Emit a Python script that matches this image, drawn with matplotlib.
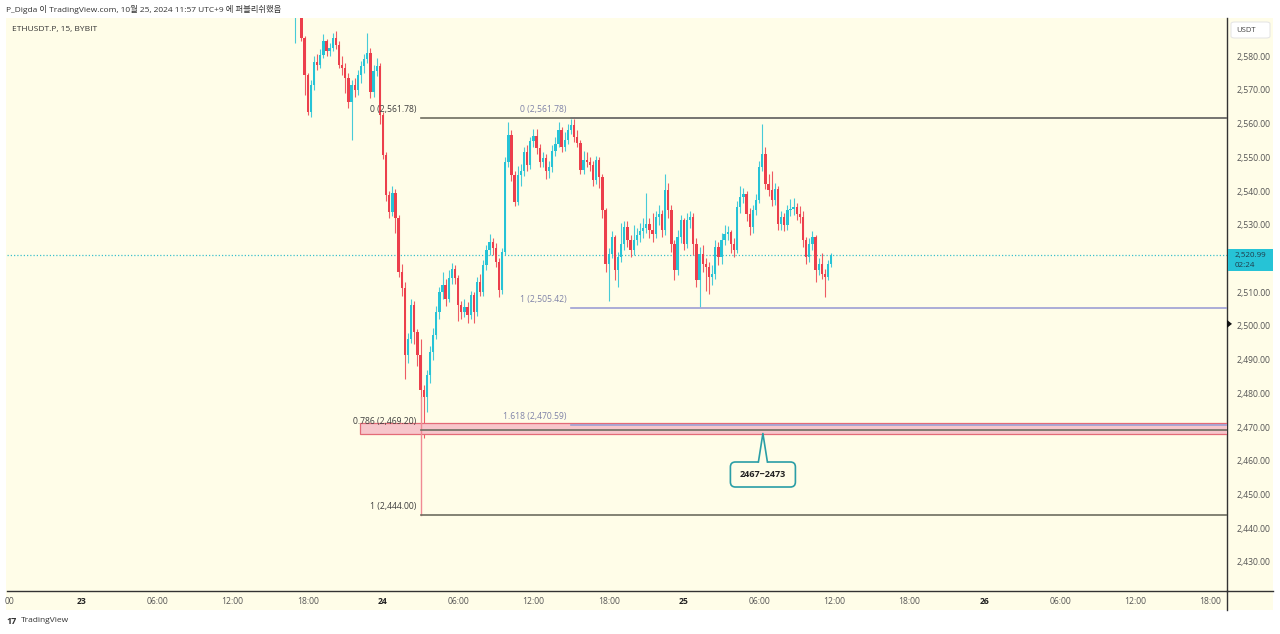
import matplotlib
matplotlib.use('Agg')
import matplotlib.pyplot as plt
from matplotlib.patches import Rectangle, FancyBboxPatch, Polygon
from matplotlib.transforms import IdentityTransform
from matplotlib.lines import Line2D

plt.rcParams['font.family'] = ['Open Sans', 'Noto Sans CJK KR', 'DejaVu Sans']

# ---------------- data ----------------
start_hour = 17.0          # hours since 2024-10-23 00:00 (first candle)
step_hour = 0.25           # 15-minute candles
first_open = 2593.0

closes = [2596, 2597, 2585.4, 2574.5, 2563.5, 2571.5, 2578.4, 2577.4, 2580.4, 2584.4,
          2581.4, 2582.4, 2585.4, 2583.4, 2577.4, 2576.4, 2573.5, 2566.5, 2571.5, 2570.0,
          2574.5, 2577.0, 2579.0, 2581.0, 2569.5, 2575.5, 2577.0, 2562.5, 2550.7, 2538.8,
          2533.9, 2539.3, 2531.9, 2516.1, 2511.1, 2491.3, 2496.2, 2506.2, 2498.2, 2491.3,
          2481.0, 2479.0, 2485.4, 2492.3, 2497.2, 2504.2, 2510.1, 2512.1, 2508.1, 2514.1,
          2517.0, 2514.1, 2506.2, 2504.2, 2505.7, 2503.2, 2509.1, 2504.2, 2513.1, 2510.1,
          2518.0, 2522.5, 2525.0, 2523.0, 2519.0, 2510.6, 2522.0, 2548.7, 2556.6, 2544.8,
          2536.8, 2544.8, 2545.8, 2551.7, 2547.7, 2554.7, 2556.2, 2552.7, 2548.7, 2549.7,
          2545.8, 2547.0, 2552.0, 2554.0, 2558.1, 2553.1, 2555.1, 2558.1, 2559.5, 2556.1,
          2554.1, 2546.2, 2549.1, 2548.7, 2547.7, 2543.2, 2549.1, 2544.2, 2534.3, 2518.5,
          2521.4, 2526.4, 2516.5, 2520.4, 2524.4, 2529.3, 2525.4, 2522.5, 2525.5, 2527.0,
          2528.0, 2529.0, 2530.3, 2528.3, 2527.4, 2532.3, 2533.3, 2528.3, 2540.2, 2534.3,
          2524.4, 2516.5, 2526.4, 2531.3, 2524.4, 2531.3, 2532.3, 2524.4, 2513.5, 2521.4,
          2518.5, 2517.5, 2514.5, 2515.5, 2523.4, 2520.4, 2525.4, 2527.4, 2527.9, 2524.4,
          2522.5, 2535.3, 2538.3, 2539.2, 2533.3, 2529.3, 2534.3, 2537.3, 2547.2, 2551.1,
          2542.2, 2540.2, 2537.3, 2540.7, 2530.3, 2532.3, 2529.8, 2534.3, 2534.8, 2535.3,
          2533.3, 2532.3, 2525.4, 2520.4, 2524.4, 2526.4, 2516.5, 2518.5, 2515.5, 2514.5,
          2518.5, 2521.0]

highs = [2598, 2599, 2598, 2586, 2575, 2573, 2580, 2580.5, 2582, 2586.5,
         2585, 2584, 2587, 2587.3, 2584.5, 2580, 2578, 2575, 2573, 2573.5,
         2576, 2578.5, 2580.5, 2586.8, 2582.5, 2577.5, 2579.5, 2578, 2563.5, 2551.5,
         2540, 2541.5, 2540.5, 2533, 2518.5, 2513, 2498, 2508, 2507.5, 2499,
         2496, 2482.5, 2487, 2494, 2499.5, 2506, 2511.5, 2516, 2514, 2516.5,
         2518.8, 2518, 2515, 2507.5, 2508, 2507, 2510.5, 2510, 2514.5, 2515.5,
         2519.5, 2524, 2527.3, 2526, 2524.5, 2520, 2523, 2550, 2560.5, 2558,
         2546, 2547.5, 2548, 2553, 2553.5, 2556, 2558.5, 2558.3, 2554, 2551.5,
         2551, 2549, 2553.5, 2556, 2560.5, 2559, 2557.5, 2560, 2561.5, 2561.3,
         2558, 2555, 2552, 2551.5, 2550, 2549, 2550.5, 2550, 2545, 2535,
         2523, 2528, 2527, 2522, 2530.5, 2531, 2531, 2527, 2530, 2529,
         2530.5, 2532, 2539.5, 2532, 2533.5, 2534, 2536, 2534.5, 2545, 2542.5,
         2536, 2525.5, 2528.5, 2533, 2532, 2533.5, 2534, 2533.5, 2526, 2523.5,
         2524, 2520, 2519, 2518, 2525.5, 2525, 2527.5, 2530, 2529.5, 2528.5,
         2526, 2537, 2541.5, 2541, 2540, 2535, 2536, 2539, 2549, 2560,
         2553, 2545, 2546, 2542.5, 2541.5, 2534, 2533.5, 2536, 2537.5, 2538,
         2536.5, 2535.5, 2534, 2526.5, 2526, 2528, 2527, 2520, 2521.5, 2517,
         2519.5, 2521.5]

lows = [2584, 2592, 2584.5, 2568.5, 2562.4, 2562.0, 2570, 2576, 2576.5, 2579.5,
        2580, 2580, 2581.5, 2582, 2576.5, 2574.5, 2569, 2564.6, 2555.0, 2568,
        2568.5, 2572, 2575, 2578, 2567.5, 2568, 2574, 2560, 2549.5, 2537,
        2532, 2532.5, 2527.5, 2514.5, 2509, 2484.4, 2489, 2495, 2494.5, 2488,
        2478.5, 2466.8, 2474.5, 2483, 2490, 2496, 2502, 2508, 2506, 2507,
        2512.5, 2512.5, 2501.5, 2502, 2502.5, 2501, 2502, 2501, 2503, 2509,
        2509, 2516.5, 2521, 2521, 2517.5, 2508.5, 2509.5, 2521, 2547, 2543,
        2535.5, 2536, 2541.5, 2544.5, 2546, 2546.5, 2553, 2551, 2547, 2547,
        2543.5, 2544, 2545.5, 2550.5, 2553, 2551.5, 2552, 2554, 2557, 2554.5,
        2553, 2545, 2545, 2547, 2546, 2541.5, 2542, 2541, 2532, 2516,
        2507.5, 2520, 2513.5, 2511.5, 2519, 2522.5, 2523.5, 2520.5, 2521, 2524,
        2525, 2526, 2527.5, 2526, 2525, 2526, 2530, 2526.5, 2527, 2532,
        2522, 2513.5, 2515, 2524.5, 2522.5, 2523, 2529, 2521, 2511.5, 2505.6,
        2516, 2510.5, 2509.5, 2512, 2514, 2518, 2518.5, 2524, 2525.5, 2521.5,
        2520.5, 2521.5, 2533.5, 2536.5, 2531, 2527, 2527.5, 2533, 2536.5, 2546,
        2540.5, 2538.5, 2535.5, 2536, 2528.5, 2528.5, 2528, 2528.5, 2532.5, 2533,
        2531.5, 2530.5, 2523.5, 2518.5, 2519, 2522.5, 2513, 2515, 2514, 2508.6,
        2513.5, 2517.5]

xtick_hours = [-5.75, 0, 6, 12, 18, 24, 30, 36, 42, 48, 54, 60, 66, 72, 78, 84, 90]
xtick_labels = ['00', '23', '06:00', '12:00', '18:00', '24', '06:00', '12:00', '18:00',
                '25', '06:00', '12:00', '18:00', '26', '06:00', '12:00', '18:00']
day_labels = ['23', '24', '25', '26']
ytick_values = [2430, 2440, 2450, 2460, 2470, 2480, 2490, 2500, 2510,
                2530, 2540, 2550, 2560, 2570, 2580]

fib1_start = 27.0
fib1_levels = ['0', '0.786', '1']
fib1_prices = [2561.78, 2469.20, 2444.00]
fib2_start = 39.0
fib2_levels = ['0', '1', '1.618']
fib2_prices = [2561.78, 2505.42, 2470.59]
zone_start = 22.2
zone_low, zone_high = 2468.1, 2471.2
callout_hour = 54.3
callout_text = '2467~2473'
last_price = 2520.99
countdown = '02:24'
marker_price = 2500.6

header = 'P_Digda 이 TradingView.com, 10월 25, 2024 11:57 UTC+9 에 퍼블리쉬했음'
symbol = 'ETHUSDT.P, 15, BYBIT'

# ---------------- style ----------------
W, H = 1280, 634
BG = '#fffde8'
UP = '#26c3d6'
DN = '#ec3f4c'
GRAYFIB = '#6e6d60'
PURFIB = '#9d9fd4'
TEAL = '#2a9ea6'

fig = plt.figure(figsize=(W / 100, H / 100), dpi=100, facecolor='white')
# cream panel (chart + scales)
fig.patches.append(Rectangle((6 / W, 1 - 610 / H), (1273 - 6) / W, (610 - 18) / H,
                             transform=fig.transFigure, facecolor=BG, edgecolor='none', zorder=-5))

ax = fig.add_axes([7 / W, 1 - 591 / H, (1227 - 7) / W, (591 - 18) / H])
ax.set_zorder(1)
ax.set_facecolor(BG)
ax.set_xlim(-5.98, 91.31)
ax.set_ylim(2421.4, 2591.3)

# candles
n = len(closes)
times = [start_hour + step_hour * i for i in range(n)]
opens = [first_open] + closes[:-1]
for t, o, c, hi, lo in zip(times, opens, closes, highs, lows):
    col = UP if c >= o else DN
    ax.vlines(t, lo, hi, color=col, linewidth=0.8, alpha=0.85, zorder=3)
    bottom = min(o, c)
    height = max(abs(c - o), 0.3)
    ax.bar(t, height, bottom=bottom, width=0.185, color=col, edgecolor='none', zorder=4)

# current price dotted line
ax.axhline(last_price, color='#3cc0cc', linewidth=0.9, linestyle=(0, (1, 1.6)), zorder=2)

# zone rectangle
ax.add_patch(Rectangle((zone_start, zone_low), 200, zone_high - zone_low,
                       facecolor='#f7c6cb', edgecolor='#e36b77', linewidth=0.9, zorder=5))

# fib 2 (lavender)
for lv, p in zip(fib2_levels, fib2_prices):
    ax.plot([fib2_start, 200], [p, p], color=PURFIB, linewidth=1.2, zorder=6)
    lab = f'{lv} ({p:,.2f})'
    ax.annotate(lab, (fib2_start, p), xytext=(-3, 6), textcoords='offset points',
                ha='right', va='center', fontsize=6.2, color='#7f82a8', zorder=8)

# fib 1 (gray)
for lv, p in zip(fib1_levels, fib1_prices):
    ax.plot([fib1_start, 200], [p, p], color=GRAYFIB, linewidth=1.2, zorder=7)
    lab = f'{lv} ({p:,.2f})'
    ax.annotate(lab, (fib1_start, p), xytext=(-3, 6), textcoords='offset points',
                ha='right', va='center', fontsize=6.2, color='#3e3e3e', zorder=8)
# fib1 trend line (vertical leg)
ax.plot([fib1_start, fib1_start], [fib1_prices[2], min(closes[39:42])], color='#f08a94',
        linewidth=1.0, zorder=5)

# axes styling
for s in ['top', 'left']:
    ax.spines[s].set_visible(False)
ax.spines['right'].set_color('#333333')
ax.spines['bottom'].set_color('#333333')
ax.spines['right'].set_linewidth(1.0)
ax.spines['bottom'].set_linewidth(1.0)
ax.yaxis.tick_right()
ax.set_yticks(ytick_values)
ax.set_yticklabels([f'{v:,.2f}' for v in ytick_values])
ax.tick_params(axis='y', length=0, pad=7, labelsize=6.2, labelcolor='#555555')
ax.set_xticks(xtick_hours)
ax.set_xticklabels(xtick_labels)
ax.tick_params(axis='x', length=0, pad=4, labelsize=6.2, labelcolor='#555555')
for tl in ax.get_xticklabels():
    if tl.get_text() in day_labels:
        tl.set_color('#222222')
        tl.set_fontweight('bold')

# extend scale separator lines
fig.add_artist(Line2D([1227 / W, 1227 / W], [1 - 610 / H, 1 - 591 / H], transform=fig.transFigure,
                      color='#333333', linewidth=1.0))
fig.add_artist(Line2D([1227 / W, 1273 / W], [1 - 591 / H, 1 - 591 / H], transform=fig.transFigure,
                      color='#333333', linewidth=1.0))

# texts
fig.text(6 / W, 1 - 9 / H, header, fontsize=6, color='#333333', va='center', ha='left')
fig.text(12 / W, 1 - 29 / H, symbol, fontsize=6, color='#333333', va='center', ha='left', zorder=5)
fig.text(6 / W, 1 - 621 / H, '17', fontsize=6.5, fontweight='bold', color='#333333',
         va='center', ha='left')
fig.text(21 / W, 1 - 621 / H, 'TradingView', fontsize=6, color='#333333', va='center', ha='left')

# USDT box
fig.patches.append(FancyBboxPatch((1231 / W, 1 - 38 / H), 39 / W, 16 / H,
                                  boxstyle='round,pad=0,rounding_size=0.003',
                                  transform=fig.transFigure, facecolor='white',
                                  edgecolor='#e6e6e6', linewidth=0.8, zorder=2))
fig.text(1236 / W, 1 - 30 / H, 'USDT', fontsize=5.5, color='#444444', va='center', ha='left',
         zorder=3)

fig.canvas.draw()
tr = ax.transData

# last price tag
px, py = tr.transform((ax.get_xlim()[1], last_price))
fig.patches.append(Rectangle((px + 1, py - 16), 45, 22, transform=IdentityTransform(),
                             facecolor=UP, edgecolor='none', zorder=3))
fig.text((px + 8) / W, (py) / H, f'{last_price:,.2f}', fontsize=5.8, color='#1f3b4a',
         va='center', ha='left', zorder=4)
fig.text((px + 8) / W, (py - 10) / H, countdown, fontsize=5.8, color='#1f3b4a',
         va='center', ha='left', zorder=4)

# small black marker on axis
mx, my = tr.transform((ax.get_xlim()[1], marker_price))
fig.patches.append(Polygon([(mx, my + 4), (mx + 5, my), (mx, my - 4)], closed=True,
                           transform=IdentityTransform(), facecolor='#111111',
                           edgecolor='none', zorder=5))

# callout
tx, ty = tr.transform((callout_hour, zone_low))
cy = ty - 41
bw, bh = 65, 25
box = FancyBboxPatch((tx - bw / 2, cy - bh / 2), bw, bh, boxstyle='round,pad=0,rounding_size=5',
                     transform=IdentityTransform(), facecolor=BG, edgecolor=TEAL,
                     linewidth=1.2, zorder=9)
fig.patches.append(box)
top = cy + bh / 2
tri = Polygon([(tx - 4.5, top - 1), (tx, ty), (tx + 4.5, top - 1)], closed=True,
              transform=IdentityTransform(), facecolor=BG, edgecolor='none', zorder=10)
fig.patches.append(tri)
fig.add_artist(Line2D([tx - 4.5, tx, tx + 4.5], [top, ty, top], transform=IdentityTransform(),
                      color=TEAL, linewidth=1.2, zorder=11))
fig.text(tx / W, cy / H, callout_text, fontsize=6.5, fontweight='bold', color='#222222',
         ha='center', va='center', zorder=12)

fig.savefig('out.png', dpi=100, facecolor='white')
